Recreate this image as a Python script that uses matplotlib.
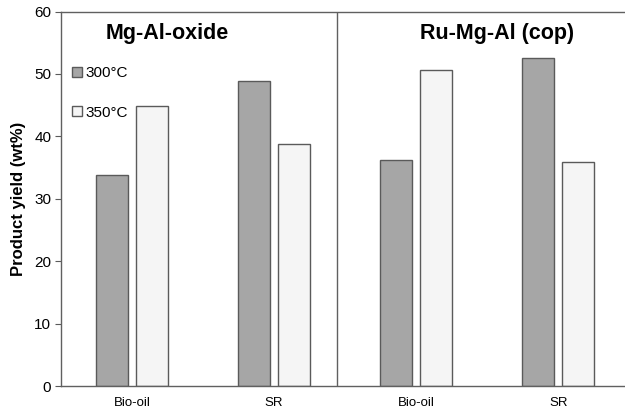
import matplotlib
matplotlib.use("Agg")
import matplotlib.pyplot as plt
import numpy as np

plt.rcParams['font.family'] = ['Liberation Sans', 'DejaVu Sans']

categories = ["Bio-oil", "SR", "Bio-oil", "SR"]
yield_300 = [33.8, 48.9, 36.2, 52.6]
yield_350 = [44.8, 38.8, 50.6, 35.9]
panel_titles = ["Mg-Al-oxide", "Ru-Mg-Al (cop)"]
series_labels = ["300°C", "350°C"]

fig = plt.figure(figsize=(6.25, 4.13), dpi=100)
ax = fig.add_axes([61/625, 27/413, 1 - 61/625, (386 - 11.5)/413])

x = np.arange(len(categories))
w = 0.225
off = 0.141
edge = "#5a5a5a"
ax.bar(x - off, yield_300, w, color="#a6a6a6", edgecolor=edge, linewidth=1.0, label=series_labels[0])
ax.bar(x + off, yield_350, w, color="#f5f5f5", edgecolor=edge, linewidth=1.0, label=series_labels[1])

ax.set_xlim(-0.5, 3.47)
ax.set_ylim(0, 60)
ax.set_yticks(range(0, 61, 10))
ax.set_xticks(x)
ax.set_xticklabels(categories, fontsize=9.5)
ax.tick_params(axis='x', length=0, pad=8)
ax.tick_params(axis='y', length=4, labelsize=11, color=edge, pad=3)
for s in ['left', 'bottom', 'top']:
    ax.spines[s].set_color("#606060")
    ax.spines[s].set_linewidth(1.0)
ax.spines['right'].set_visible(False)

ax.axvline(1.44, color="#606060", linewidth=1.0)

ax.text(0.25, 56.4, panel_titles[0], ha='center', va='center', fontsize=15.5, fontweight='bold')
ax.text(2.57, 56.4, panel_titles[1], ha='center', va='center', fontsize=15.5, fontweight='bold')

ax.set_ylabel("Product yield (wt%)", fontsize=12, fontweight='bold', labelpad=6)

ax.legend(loc='upper left', bbox_to_anchor=(0.008, 0.87), frameon=False, fontsize=11,
          handlelength=0.65, handleheight=0.65, handletextpad=0.25, labelspacing=1.65,
          borderaxespad=0)

fig.savefig("out.png", dpi=100)
